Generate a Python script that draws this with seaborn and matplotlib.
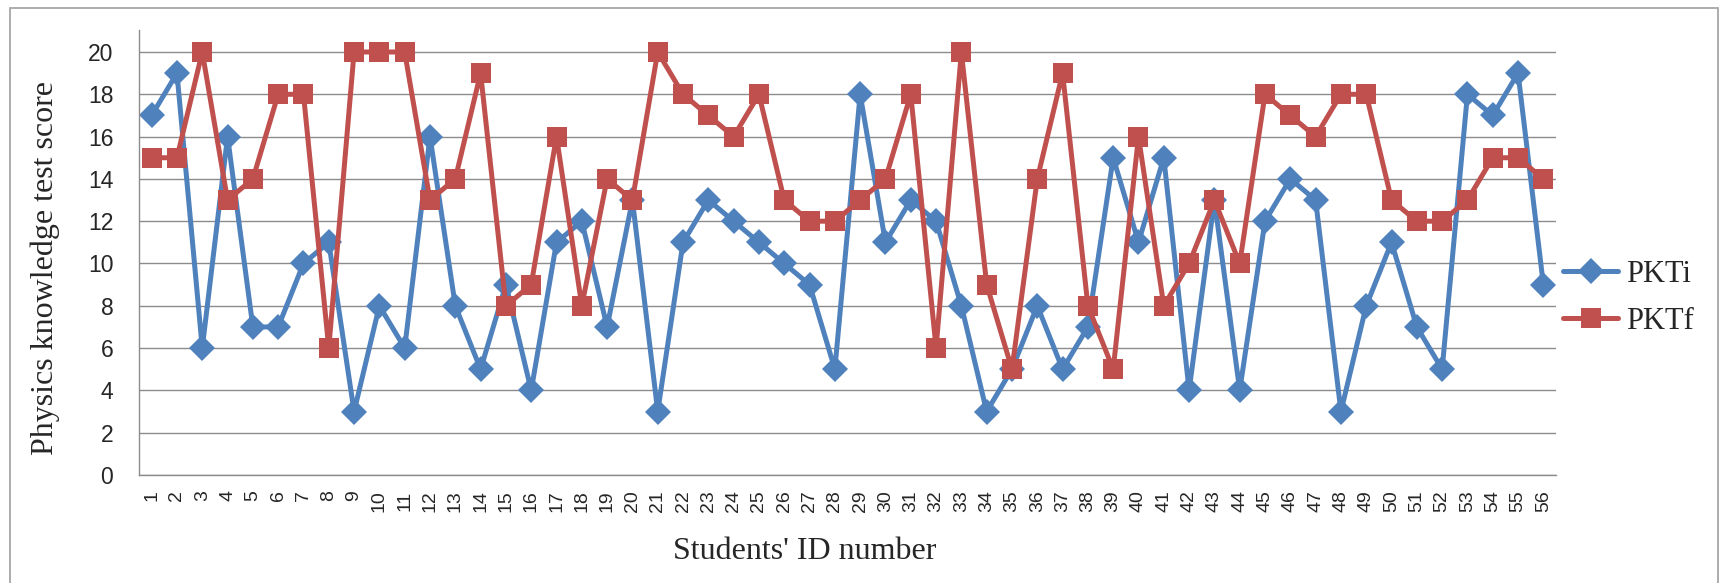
import pandas as pd
import seaborn as sns
import matplotlib.pyplot as plt
from matplotlib.patches import Rectangle
from matplotlib.ticker import FixedLocator

# student ids and the two test scores
student_ids = list(range(1, 57))
pkti = [17, 19, 6, 16, 7, 7, 10, 11, 3, 8, 6, 16, 8, 5, 9, 4, 11, 12, 7, 13,
        3, 11, 13, 12, 11, 10, 9, 5, 18, 11, 13, 12, 8, 3, 5, 8, 5, 7, 15, 11,
        15, 4, 13, 4, 12, 14, 13, 3, 8, 11, 7, 5, 18, 17, 19, 9]
pktf = [15, 15, 20, 13, 14, 18, 18, 6, 20, 20, 20, 13, 14, 19, 8, 9, 16, 8, 14, 13,
        20, 18, 17, 16, 18, 13, 12, 12, 13, 14, 18, 6, 20, 9, 5, 14, 19, 8, 5, 16,
        8, 10, 13, 10, 18, 17, 16, 18, 18, 13, 12, 12, 13, 15, 15, 14]
y_ticks = list(range(0, 21, 2))

df = pd.DataFrame({'id': student_ids, 'PKTi': pkti, 'PKTf': pktf})

sns.set_style('white')
plt.rcParams['font.family'] = ['Liberation Serif', 'DejaVu Serif']

fig = plt.figure(figsize=(17.2, 5.83), dpi=100)
ax = fig.add_axes([139 / 1720, 1 - 475 / 583, (1556 - 139) / 1720, (475 - 30) / 583])

# outer chart border like the Excel frame
fig.patches.append(Rectangle((10 / 1720, -0.01), 1708 / 1720, 1 - 8 / 583 + 0.01,
                             transform=fig.transFigure, fill=False,
                             edgecolor='#A6A6A6', linewidth=1.3))

blue = '#4F81BD'
red = '#C0504D'
sns.lineplot(data=df, x='id', y='PKTi', ax=ax, color=blue, marker='D',
             markersize=13.5, markeredgewidth=0, linewidth=3.6, label='PKTi', legend=False)
sns.lineplot(data=df, x='id', y='PKTf', ax=ax, color=red, marker='s',
             markersize=14.2, markeredgewidth=0, linewidth=3.6, label='PKTf', legend=False)

ax.set_xlim(0.5, 56.5)
ax.set_ylim(0, 21.04)
ax.set_yticks(y_ticks)
ax.yaxis.grid(True, color='#8C8C8C', linewidth=1.0)
ax.set_axisbelow(True)
for s in ['top', 'right']:
    ax.spines[s].set_visible(False)
for s in ['left', 'bottom']:
    ax.spines[s].set_color('#8C8C8C')
    ax.spines[s].set_linewidth(1.0)

ax.set_xticks(student_ids)
ax.set_xticklabels([str(i) for i in student_ids], rotation=90, va='top', ha='center',
                   fontsize=14, family='Liberation Sans')
ax.xaxis.set_minor_locator(FixedLocator([i + 0.5 for i in range(0, 57)]))
ax.tick_params(axis='x', which='major', length=0, pad=11)
ax.tick_params(axis='x', which='minor', length=6, width=1.0, color='#8C8C8C', direction='out')
ax.tick_params(axis='y', length=6.5, width=1.0, color='#8C8C8C', direction='out', pad=12,
               labelsize=16.5)
for t in ax.get_yticklabels():
    t.set_family('Liberation Sans')

ax.set_ylabel('Physics knowledge test score', fontsize=23)
ax.yaxis.set_label_coords(-0.0557, 0.465)
ax.set_xlabel("Students' ID number", fontsize=23, va='center')
ax.xaxis.set_label_coords(0.47, -0.173)

handles = ax.get_lines()[:2]
ax.legend(handles, ['PKTi', 'PKTf'], loc='center left', bbox_to_anchor=(1563 / 1720, 1 - 298 / 583),
          bbox_transform=fig.transFigure, frameon=False, fontsize=22, borderpad=0,
          borderaxespad=0, handlelength=1.8, handletextpad=0.25, labelspacing=0.6)

plt.savefig('out.png', dpi=100)
